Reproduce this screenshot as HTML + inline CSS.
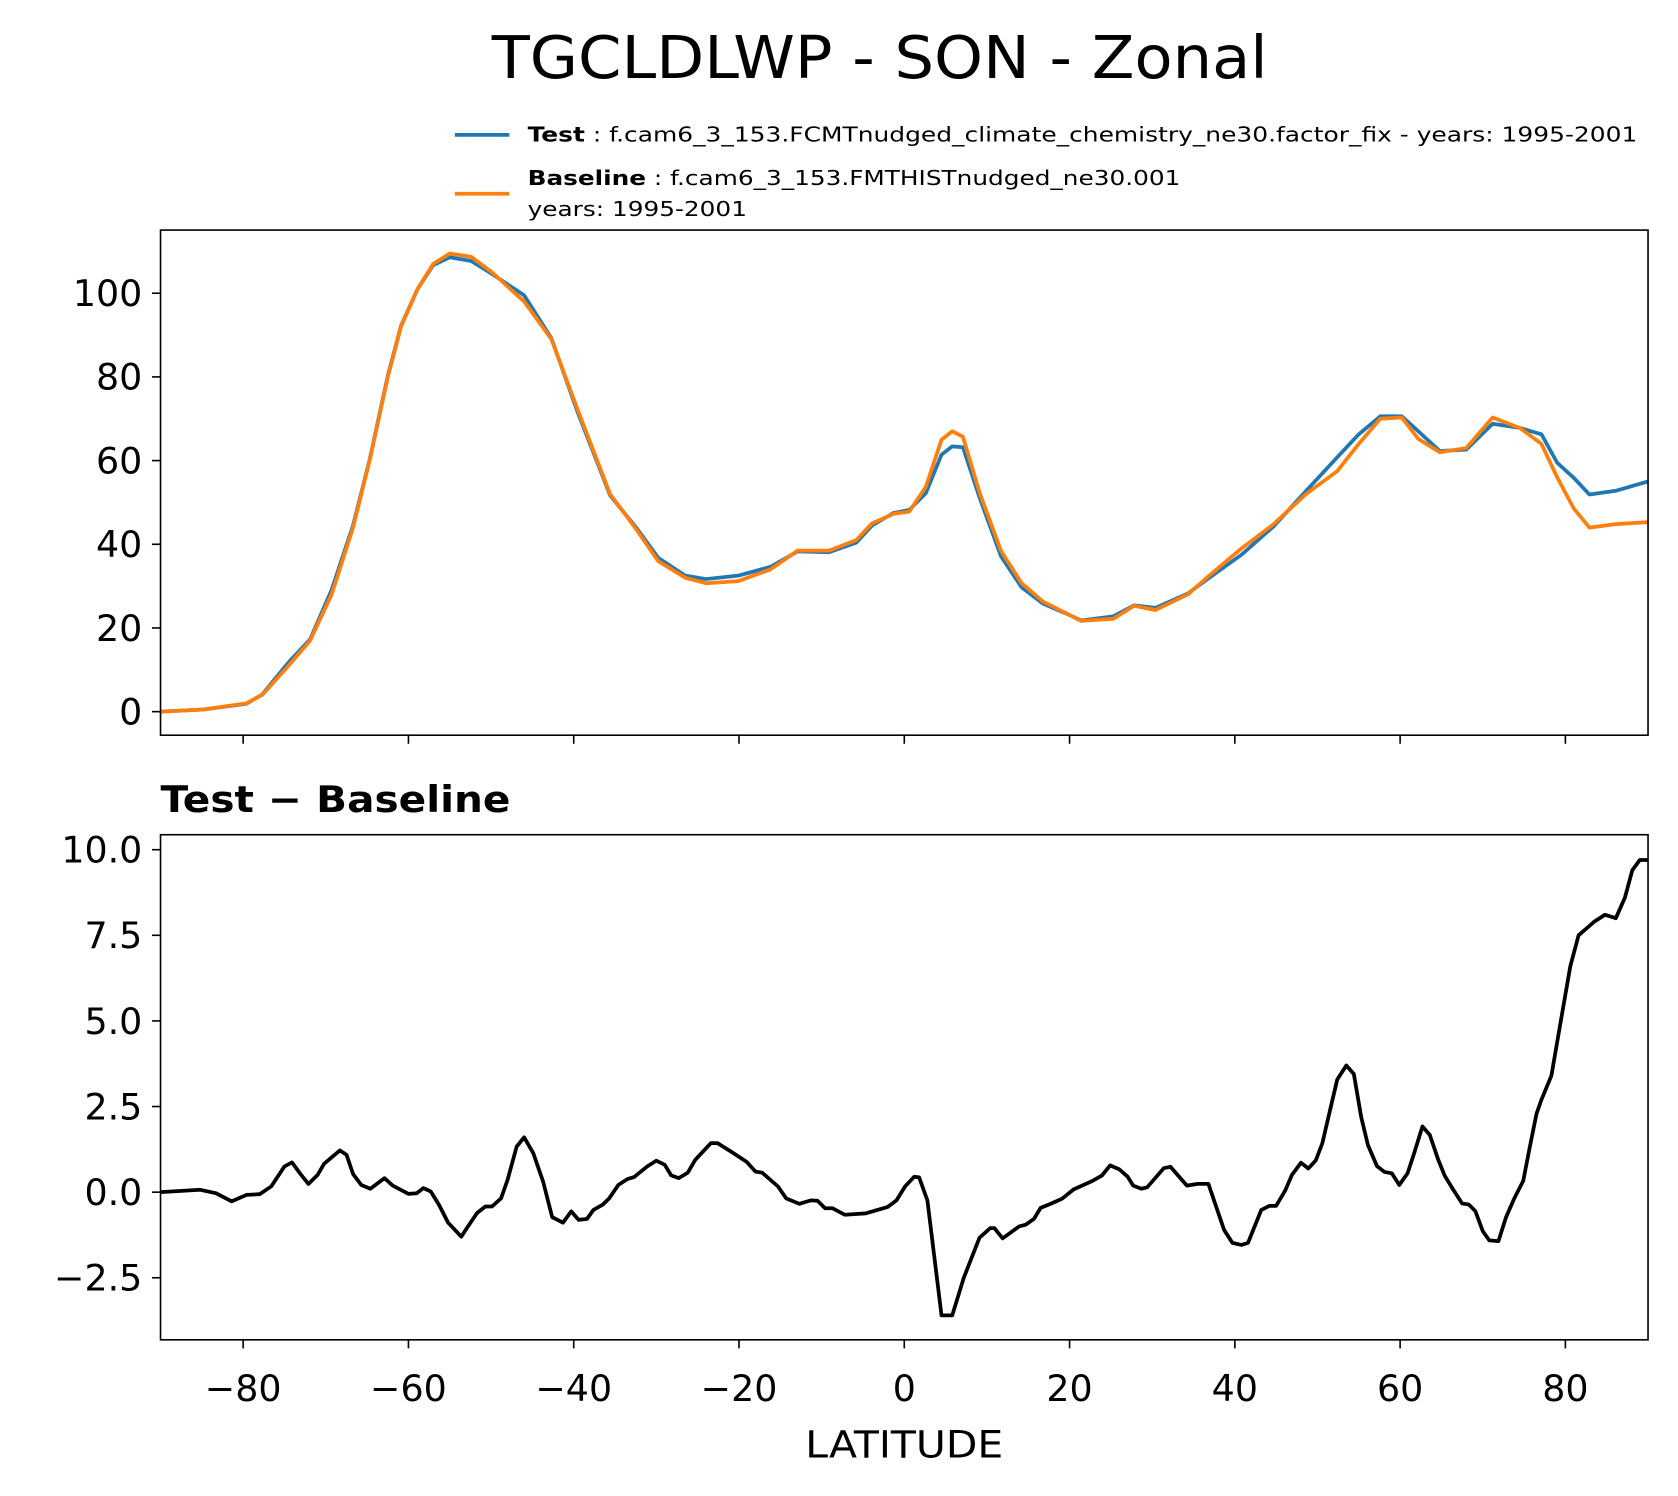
<!DOCTYPE html>
<html><head><meta charset="utf-8"><style>
body{margin:0;background:#fff}
svg{display:block;font-family:"DejaVu Sans","Liberation Sans",sans-serif}
</style></head><body>
<svg id="chart" width="1678" height="1496" viewBox="0 0 1678 1496" xmlns="http://www.w3.org/2000/svg">
<rect width="1678" height="1496" fill="#fff"/>
<g transform="scale(1.07015)">
<text x="822" y="73" font-size="55" text-anchor="middle" textLength="725" lengthAdjust="spacingAndGlyphs">TGCLDLWP - SON - Zonal</text>
<g>
<line x1="425" y1="126" x2="476" y2="126" stroke="#1f77b4" stroke-width="3.5"/>
<text x="493" y="132" font-size="19" textLength="1037" lengthAdjust="spacingAndGlyphs"><tspan font-weight="bold">Test</tspan> : f.cam6_3_153.FCMTnudged_climate_chemistry_ne30.factor_fix - years: 1995-2001</text>
<line x1="425" y1="181" x2="476" y2="181" stroke="#ff7f0e" stroke-width="3.5"/>
<text x="493" y="173" font-size="19" textLength="610" lengthAdjust="spacingAndGlyphs"><tspan font-weight="bold">Baseline</tspan> : f.cam6_3_153.FMTHISTnudged_ne30.001</text>
<text x="493" y="202" font-size="19" textLength="205" lengthAdjust="spacingAndGlyphs">years: 1995-2001</text>
</g>
<g id="top"></g>
<g id="bot"></g>
<text x="150" y="759" font-size="34" font-weight="bold" textLength="327" lengthAdjust="spacingAndGlyphs">Test − Baseline</text>
<text x="845" y="1362" font-size="35" text-anchor="middle" textLength="185" lengthAdjust="spacingAndGlyphs">LATITUDE</text>
</g>
</svg>
<script>
const lats=[-90,-84.8,-79.6,-77.7,-74.5,-71.9,-69.3,-66.7,-64.7,-62.5,-60.9,-58.9,-57.0,-55.0,-52.4,-49.9,-46.0,-42.7,-39.5,-35.6,-32.4,-29.8,-26.5,-24.0,-20.1,-16.2,-12.9,-9.1,-5.8,-3.9,-1.3,0.6,2.6,4.5,5.8,7.1,9.1,11.7,14.2,16.8,20.1,21.4,25.3,27.8,30.4,34.3,36.9,40.8,44.7,48.6,52.4,55.0,57.6,60.2,62.2,64.8,68.0,71.2,74.5,77.1,79.0,81.0,82.9,86.1,90];
const baseline=[0,0.5,2,4,11,17,28,44,60,80,92,101,107,109.5,108.7,105,98,89,72,52,43.5,36,32,30.7,31.2,34,38.5,38.5,41,45,47.3,47.8,53.7,65,67,65.7,52.4,38.4,30.7,26.3,23,21.7,22.2,25.3,24.3,28,32.5,39,44.8,52,57.5,64,70,70.3,65.2,62,63,70.3,67.8,64,56,48.6,44,44.8,45.3];
const test=[0,0.5,1.9,4.1,11.8,17.3,29.1,44.5,60.2,80.3,92.2,101,106.7,108.6,107.7,104.6,99.5,89.2,71.4,51.7,43.9,36.8,32.5,31.7,32.5,34.6,38.3,38.1,40.4,44.5,47.5,48.2,52.2,61.4,63.4,63.2,51.2,37.1,29.7,25.8,23,21.8,22.8,25.4,24.8,28.2,32,37.5,44.3,52.7,60.8,66.3,70.6,70.6,67,62.3,62.6,68.8,67.8,66.3,59.5,55.9,51.9,52.8,55];
const diffLats=[-90,-85.2,-83.3,-81.4,-79.6,-78.0,-76.6,-75.0,-74.1,-73.1,-72.1,-71.0,-70.2,-68.3,-67.5,-66.7,-65.7,-64.6,-62.9,-61.9,-60.0,-59.0,-58.2,-57.3,-56.3,-55.2,-53.6,-52.8,-51.7,-50.7,-49.9,-48.8,-48.0,-46.9,-46.0,-44.9,-43.7,-42.6,-41.3,-40.3,-39.4,-38.4,-37.6,-36.5,-35.7,-34.6,-33.5,-32.7,-31.1,-30.0,-29.0,-28.2,-27.3,-26.2,-25.3,-23.4,-22.6,-21.0,-19.1,-18.0,-17.2,-15.3,-14.3,-12.7,-11.3,-10.5,-9.6,-8.7,-7.2,-4.65,-2.0,-0.95,0.1,1.2,1.8,2.8,4.5,5.8,7.2,9.1,10.4,10.9,11.9,13.9,14.7,15.7,16.5,17.8,19.1,20.5,22.8,23.9,24.9,26.0,27.0,27.7,28.7,29.4,31.4,32.2,34.2,35.5,36.8,38.7,39.7,40.8,41.6,43.2,44.2,45.0,46.1,46.9,48.0,48.9,49.8,50.6,51.6,52.4,53.5,54.4,55.3,56.1,57.2,58.1,59.0,59.9,60.9,61.7,62.7,63.6,64.6,65.4,66.4,67.5,68.3,69.1,70.0,70.8,71.9,72.8,73.8,74.9,75.7,76.5,77.1,78.3,79.3,80.6,81.6,83.5,84.8,86.1,87.2,88.1,89,90];
const diff=[0,0.07,-0.03,-0.27,-0.08,-0.06,0.17,0.75,0.87,0.54,0.24,0.5,0.83,1.22,1.09,0.53,0.21,0.1,0.41,0.19,-0.05,-0.03,0.12,0.02,-0.37,-0.89,-1.3,-1.0,-0.61,-0.42,-0.42,-0.18,0.36,1.33,1.6,1.14,0.31,-0.73,-0.89,-0.56,-0.81,-0.78,-0.52,-0.37,-0.18,0.21,0.38,0.44,0.75,0.92,0.8,0.49,0.41,0.57,0.94,1.43,1.43,1.19,0.89,0.6,0.57,0.17,-0.18,-0.34,-0.24,-0.25,-0.47,-0.47,-0.66,-0.62,-0.43,-0.24,0.17,0.45,0.43,-0.24,-3.6,-3.6,-2.5,-1.33,-1.05,-1.05,-1.35,-1.0,-0.95,-0.78,-0.46,-0.33,-0.19,0.08,0.33,0.48,0.78,0.67,0.46,0.19,0.1,0.14,0.7,0.74,0.19,0.24,0.24,-1.1,-1.48,-1.54,-1.48,-0.52,-0.4,-0.4,0.05,0.5,0.86,0.69,0.93,1.43,2.48,3.29,3.7,3.45,2.19,1.38,0.76,0.59,0.55,0.21,0.55,1.14,1.92,1.67,0.95,0.48,0.08,-0.33,-0.36,-0.55,-1.14,-1.41,-1.43,-0.74,-0.19,0.33,1.33,2.29,2.7,3.4,4.8,6.6,7.5,7.9,8.1,8.0,8.6,9.4,9.7,9.7];
const xTicks=[-80,-60,-40,-20,0,20,40,60,80];
const xTickLabels=["−80","−60","−40","−20","0","20","40","60","80"];
const topTicks=[0,20,40,60,80,100];
const botTicks=[-2.5,0,2.5,5,7.5,10];
const botTickLabels=["−2.5","0.0","2.5","5.0","7.5","10.0"];

const NS="http://www.w3.org/2000/svg";
const X0=150,X1=1540;
const xs=v=>X0+(v+90)/180*(X1-X0);
const yTop=v=>665-v*3.91;
const yBot=v=>1114-v*32;
function mk(tag,attrs,parent){const e=document.createElementNS(NS,tag);for(const k in attrs)e.setAttribute(k,attrs[k]);parent.appendChild(e);return e;}
function path(xv,vals,ys){return vals.map((v,i)=>(i?'L':'M')+xs(xv[i]).toFixed(1)+','+ys(v).toFixed(1)).join('');}

function axes(g,top,bot,ys,ticks,labels,showX){
  const clipId='c'+top;
  const cp=mk('clipPath',{id:clipId},g);
  mk('rect',{x:X0,y:top,width:X1-X0,height:bot-top},cp);
  ticks.forEach((t,i)=>{
    const y=ys(t);
    const tl=mk('line',{x1:X0-8,x2:X0,y1:y,y2:y,stroke:'#000','stroke-width':1.5},g);
    
    
    const tx=mk('text',{x:X0-17,y:y+12,'font-size':34,'text-anchor':'end'},g);
    
    
    tx.textContent=labels?labels[i]:String(t);
  });
  xTicks.forEach((t,i)=>{
    const x=xs(t);
    const tl=mk('line',{x1:x,x2:x,y1:bot,y2:bot+8,stroke:'#000','stroke-width':1.5},g);
    
    
    if(showX){
      const tx=mk('text',{x:x,y:bot+57,'font-size':34,'text-anchor':'middle'},g);
      
      
      tx.textContent=xTickLabels[i];
    }
  });
  return clipId;
}
const gt=document.getElementById('top'), gb=document.getElementById('bot');
const c1=axes(gt,215,687,yTop,topTicks,null,false);
const pt=mk('path',{d:path(lats,test,yTop),fill:'none',stroke:'#1f77b4','stroke-width':3.5,'stroke-linejoin':'round','clip-path':'url(#'+c1+')'},gt);


const pb=mk('path',{d:path(lats,baseline,yTop),fill:'none',stroke:'#ff7f0e','stroke-width':3.5,'stroke-linejoin':'round','clip-path':'url(#'+c1+')'},gt);


const f1=mk('rect',{x:X0,y:215,width:X1-X0,height:472,fill:'none',stroke:'#000','stroke-width':1.5},gt);



const c2=axes(gb,780,1252,yBot,botTicks,botTickLabels,true);
const pd=mk('path',{d:path(diffLats,diff,yBot),fill:'none',stroke:'#000','stroke-width':3.5,'stroke-linejoin':'round','clip-path':'url(#'+c2+')'},gb);


const f2=mk('rect',{x:X0,y:780,width:X1-X0,height:472,fill:'none',stroke:'#000','stroke-width':1.5},gb);


</script>
</body></html>
